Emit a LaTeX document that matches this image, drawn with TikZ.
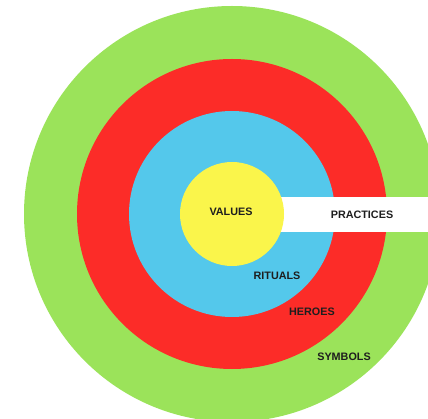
\documentclass[tikz,border=0pt]{standalone}
\usepackage{fontspec}
\setmainfont{Liberation Sans}
\definecolor{symbolgreen}{RGB}{155,227,90}
\definecolor{herored}{RGB}{252,44,40}
\definecolor{ritualblue}{RGB}{84,200,235}
\definecolor{valueyellow}{RGB}{250,245,75}
\definecolor{labelink}{RGB}{30,30,30}
\begin{document}
\begin{tikzpicture}[x=1pt, y=-1pt,
  layer/.style={font=\bfseries\fontsize{10.8}{12}\selectfont, text=labelink}]
\useasboundingbox[fill=white] (0,0) rectangle (428,419);
\coordinate (c) at (232,214);
%%%% Rings:
\fill[symbolgreen] (c) circle (208pt);
\fill[herored] (c) circle (155pt);
\fill[ritualblue] (c) circle (103pt);
%%%% Practices band
\fill[white] (232,197) rectangle (428,232);
\fill[valueyellow] (c) circle (52pt);
%%%% Layer labels
\node[layer] (values) at (231,212) {VALUES};
\node[layer] (practices) at (362,215) {PRACTICES};
\node[layer] (rituals) at (277,276) {RITUALS};
\node[layer] (heroes) at (312,312) {HEROES};
\node[layer] (symbols) at (344,357) {SYMBOLS};
\end{tikzpicture}
\end{document}
